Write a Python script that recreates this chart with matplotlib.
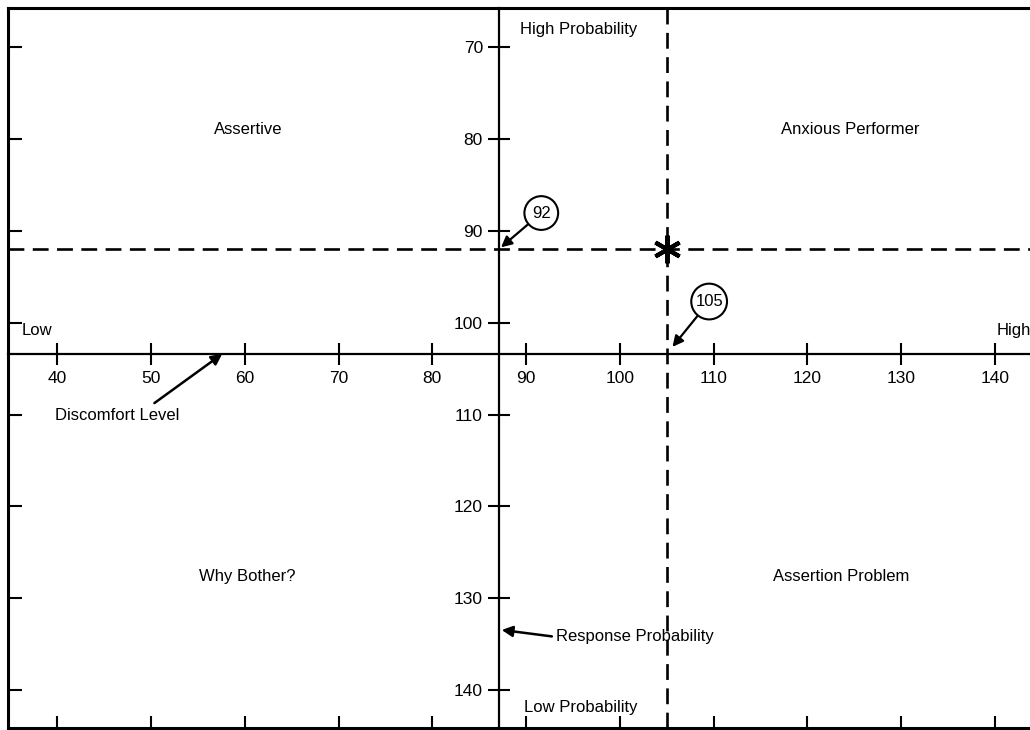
import matplotlib
matplotlib.use("Agg")
import matplotlib.pyplot as plt

plt.rcParams['font.family'] = ['Liberation Sans', 'DejaVu Sans']

# ---- data ----
x_ticks = [40, 50, 60, 70, 80, 90, 100, 110, 120, 130, 140]
y_ticks = [70, 80, 90, 100, 110, 120, 130, 140]
discomfort_cut = 105      # vertical dashed line (Discomfort Level)
probability_cut = 92      # horizontal dashed line (Response Probability)
quadrant_labels = ["Assertive", "Anxious Performer", "Why Bother?", "Assertion Problem"]
quadrant_x = [60.35, 124.54, 60.24, 123.56]
quadrant_y = [79.03, 79.03, 127.57, 127.57]
x_axis_name = "Discomfort Level"
y_axis_name = "Response Probability"

# ---- layout ----
W, H = 1030, 730
XAX_Y = 103.4   # where the horizontal axis crosses
YAX_X = 87.1    # where the vertical axis crosses
FS = 12

fig = plt.figure(figsize=(W / 100, H / 100), dpi=100)
rect = [7.5 / W, 2 / H, (W - 7.5) / W, 720 / H]

ax = fig.add_axes(rect)
ax.set_xlim(34.70, 143.73)
ax.set_ylim(144.11, 65.76)
for s in ['left', 'top', 'bottom']:
    ax.spines[s].set_linewidth(2.2)
ax.spines['right'].set_visible(False)
ax.set_xticks(x_ticks)
ax.set_yticks(y_ticks)
ax.tick_params(axis='x', direction='in', length=9, width=1.5,
               labelbottom=False, top=False)
ax.tick_params(axis='y', direction='in', length=10, width=1.5,
               labelleft=False, right=False)

ax2 = fig.add_axes(rect, sharex=ax, sharey=ax)
ax2.patch.set_visible(False)
ax2.spines['top'].set_visible(False)
ax2.spines['right'].set_visible(False)
ax2.spines['left'].set_position(('data', YAX_X))
ax2.spines['bottom'].set_position(('data', XAX_Y))
ax2.spines['left'].set_linewidth(1.6)
ax2.spines['bottom'].set_linewidth(1.6)
ax2.tick_params(direction='inout', length=16, width=1.5, labelsize=12.5)
ax2.tick_params(axis='x', pad=4)
ax2.tick_params(axis='y', pad=3.5)

# dashed cut lines
ax2.axhline(probability_cut, color='black', lw=1.9, dashes=(6, 3.2), zorder=2)
ax2.axvline(discomfort_cut, color='black', lw=1.9, dashes=(6, 3.2), zorder=2)

# star at intersection
ax2.plot([discomfort_cut], [probability_cut], marker=(6, 2, 0), ms=20,
         mew=3.0, color='black', zorder=8, clip_on=False)

# quadrant labels
for lab, qx, qy in zip(quadrant_labels, quadrant_x, quadrant_y):
    ax2.text(qx, qy, lab, ha='center', va='center', fontsize=FS)

ax2.text(95.64, 68.15, "High Probability", ha='center', va='center', fontsize=FS)
ax2.text(95.85, 141.83, "Low Probability", ha='center', va='center', fontsize=FS)
ax2.text(36.25, 100.9, "Low", ha='left', va='center', fontsize=FS)
ax2.text(140.2, 100.8, "High", ha='left', va='center', fontsize=FS)

arrow = dict(arrowstyle='-|>', color='black', lw=1.6, mutation_scale=16,
             shrinkA=0, shrinkB=2)

ax2.annotate(str(probability_cut), xy=(YAX_X, probability_cut),
             xytext=(30.5, 26), textcoords='offset points',
             ha='center', va='center', fontsize=12,
             bbox=dict(boxstyle='circle,pad=0.45', fc='white', ec='black', lw=1.5),
             arrowprops=arrow, zorder=6)

ax2.annotate(str(discomfort_cut), xy=(discomfort_cut, XAX_Y),
             xytext=(30.5, 37.7), textcoords='offset points',
             ha='center', va='center', fontsize=12,
             bbox=dict(boxstyle='circle,pad=0.24', fc='white', ec='black', lw=1.5),
             arrowprops=dict(arrow, shrinkB=6.5), zorder=6)

ax2.annotate(x_axis_name, xy=(57.6, XAX_Y), xytext=(46.4, 110.05),
             ha='center', va='center', fontsize=FS,
             arrowprops=dict(arrowstyle='-|>', color='black', lw=1.8,
                             mutation_scale=16, relpos=(0.75, 1.0),
                             shrinkA=2, shrinkB=0))

ax2.annotate(y_axis_name, xy=(YAX_X, 133.4), xytext=(93.19, 134.2),
             ha='left', va='center', fontsize=FS,
             arrowprops=dict(arrowstyle='-|>', color='black', lw=1.8,
                             mutation_scale=16, relpos=(0.0, 0.5),
                             shrinkA=1, shrinkB=2))

fig.savefig("out.png", dpi=100)
